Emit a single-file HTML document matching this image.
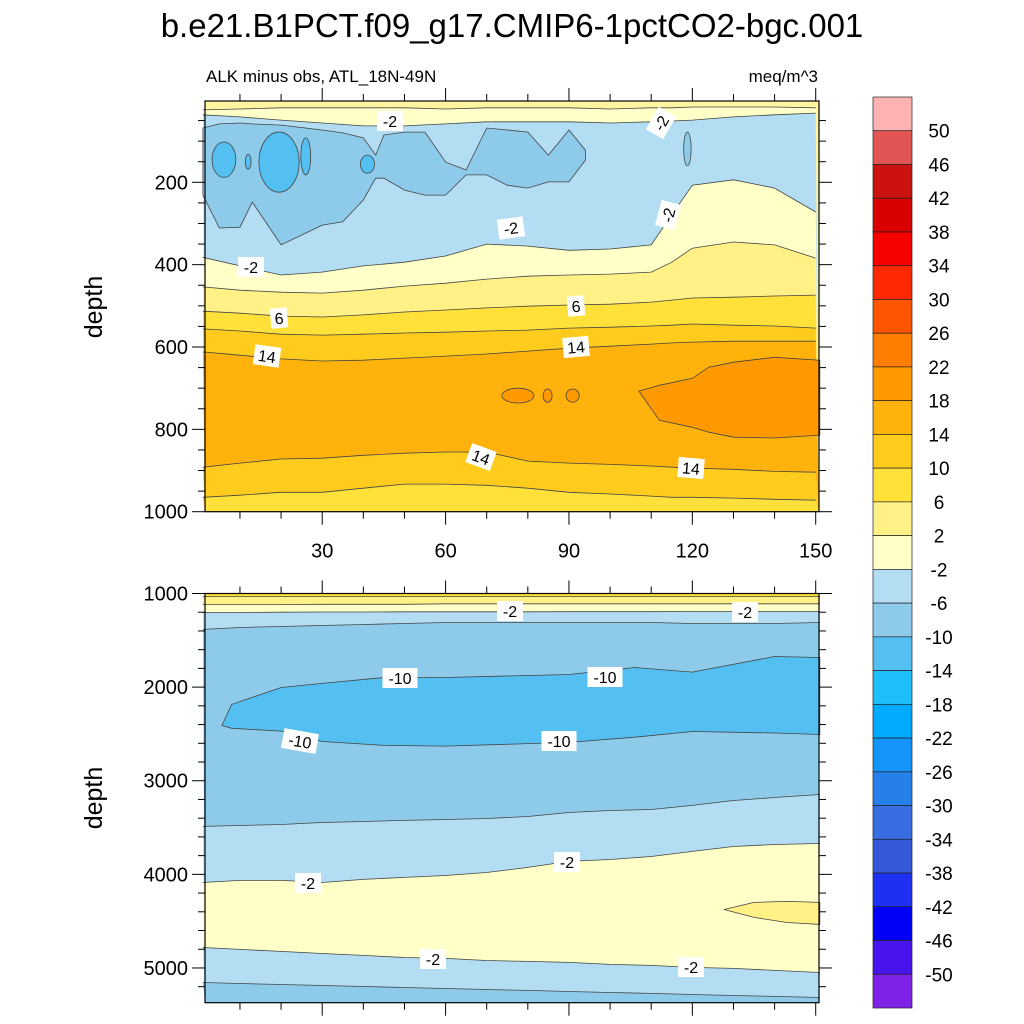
<!DOCTYPE html>
<html><head><meta charset="utf-8"><style>
html,body{margin:0;padding:0;background:#fff;}
svg{display:block;font-family:"Liberation Sans",sans-serif;}
</style></head><body>
<svg id="chart" width="1024" height="1024" viewBox="0 0 1024 1024" xmlns="http://www.w3.org/2000/svg">
<text x="512" y="37" font-size="33" text-anchor="middle">b.e21.B1PCT.f09_g17.CMIP6-1pctCO2-bgc.001</text>
<text x="206" y="82" font-size="17">ALK minus obs, ATL_18N-49N</text>
<text x="818" y="82" font-size="17" text-anchor="end">meq/m^3</text>
<text x="93" y="307" font-size="25" text-anchor="middle" transform="rotate(-90 93 307)" dy="9">depth</text>
<text x="93" y="798" font-size="25" text-anchor="middle" transform="rotate(-90 93 798)" dy="9">depth</text>
<g id="top"></g><g id="bot"></g><g id="cbar"></g>
</svg>
<script>
// ---------- data ----------
const yearsT = [1,10,20,30,40,50,60,70,80,90,100,110,115,120,130,140,150];
const topA   = [24,22,19,19,19,19,22,19,19,19,22,19,19,17,17,17,19];
const topM2a = [36,41,49,56,63,63,58,53,53,53,56,53,51,49,41,36,32];
const topM2b = [382,403,425,418,403,394,379,350,355,365,362,352,279,207,194,214,272];
const top2   = [454,462,467,469,462,452,445,435,428,425,423,418,394,360,345,352,384];
const top6   = [513,518,525,527,522,515,510,505,501,498,496,491,486,481,479,476,474];
const top10  = [556,561,569,571,569,566,564,561,559,554,552,549,547,544,547,549,554];
const top14a = [612,620,629,634,632,627,622,617,610,603,598,593,590,588,586,586,586];
const top14b = [892,882,872,870,863,858,855,855,877,882,885,889,892,894,897,902,904];
const top10b = [965,960,953,953,943,933,933,936,943,953,957,962,965,965,967,970,972];
const blueBlobYears = [1,5,10,13,20,30,35,40,43,45,50,55,60,65,70,75,80,85,90,94];
const blueBlobTop   = [68,58,56,58,61,73,80,92,134,85,78,78,151,170,68,73,78,134,73,122];
const blueBlobBot   = [231,311,309,248,352,304,296,243,190,190,219,231,231,182,182,207,214,199,199,146];
// small ellipse blobs: [centerYear, centerDepth, halfWidthYears, halfDepth]
const darkBlueBlobs = [[6.1,145,2.9,43],[19.5,151,4.9,73],[26,137,1.2,45],[41,156,1.7,22],[12,150,0.7,18]];
const medBlueBlobs = [[118.8,119,0.9,41]];
const orangeBlobYears = [107,112,120,124,130,140,151];
const orangeBlobTop = [707,693,676,649,637,625,632];
const orangeBlobBot = [707,778,795,807,819,821,814];
const orangeSmall = [[77.6,718,3.9,18],[84.8,718,1.1,16],[90.9,718,1.6,16]];

const yearsB = [1,10,20,30,40,50,60,70,80,90,100,110,120,130,140,151];
const botA   = [1032,1032,1032,1032,1032,1032,1032,1032,1032,1032,1032,1032,1032,1032,1032,1032];
const botB   = [1117,1117,1117,1115,1115,1115,1110,1110,1110,1110,1110,1110,1110,1110,1110,1110];
const botM2a = [1203,1203,1200,1198,1198,1196,1196,1196,1196,1194,1194,1194,1192,1192,1192,1192];
const botM6a = [1384,1363,1352,1342,1331,1320,1310,1310,1310,1310,1310,1310,1320,1320,1320,1310];
const botM6b = [3488,3478,3467,3446,3435,3424,3414,3403,3382,3339,3318,3307,3264,3211,3179,3147];
const botM2b = [4087,4065,4065,4087,4054,4033,4012,3980,3926,3862,3841,3809,3755,3702,3681,3670];
const botM2c = [4781,4802,4823,4845,4866,4888,4898,4920,4930,4941,4962,4973,4994,5005,5026,5048];
const botM6c = [5155,5166,5177,5187,5198,5209,5219,5230,5240,5251,5262,5272,5283,5294,5304,5315];
const m10Years = [5.6,8,20,30,45,60,90,106,120,140,151];
const m10Top = [2410,2185,2004,1960,1897,1897,1865,1790,1840,1673,1684];
const m10Bot = [2410,2440,2470,2581,2623,2630,2590,2535,2474,2490,2506];
const p2Years = [127.7,135,143,151];
const p2Top = [4375,4300,4289,4300];
const p2Bot = [4375,4460,4514,4535];

const cbLabels = ["50","46","42","38","34","30","26","22","18","14","10","6","2","-2","-6","-10","-14","-18","-22","-26","-30","-34","-38","-42","-46","-50"];
const cbColors = ["#ffb2b2","#e35555","#cc1111","#d80000","#f70000","#ff2800","#ff5500","#ff7d00","#ff9900","#ffb20b","#ffcc1e","#ffe13a","#fff185","#ffffc8","#b3ddf2","#8ecbeb","#54c0f2","#1ebefc","#00aaff","#1495fb","#2580ec","#386de3","#3558db","#1e30f2","#0000f8","#4814ee","#7d22e6"];
// ---------- helpers ----------
const NS="http://www.w3.org/2000/svg";
const X0=205,X1=819,YR0=1.5,YR1=150.8;
const xs=yr=>X0+(yr-YR0)*(X1-X0)/(YR1-YR0);
const T={y0:101,y1:511.7,d0:2.5,d1:1000};
const B={y0:593.5,y1:1002.7,d0:1000,d1:5371};
const ys=(P,d)=>P.y0+(d-P.d0)*(P.y1-P.y0)/(P.d1-P.d0);
const CREAM="#ffffc8",LB="#b3ddf2",MB="#8ecbeb",DB="#54c0f2",Y2="#fff185",Y6="#ffe13a",Y10="#ffcc1e",O14="#ffb20b",O18="#ff9900";
function mk(tag,parent,attrs){const e=document.createElementNS(NS,tag);for(const k in attrs)e.setAttribute(k,attrs[k]);parent.appendChild(e);return e;}
function linePts(P,yrs,ds){return yrs.map((y,i)=>xs(y).toFixed(1)+","+ys(P,ds[i]).toFixed(1));}
function fillBelow(g,P,yrs,ds,col,name){
  const pts=linePts(P,yrs,ds);
  const p=mk("polygon",g,{points:pts.join(" ")+" "+X1+","+P.y1+" "+X0+","+P.y1,fill:col});
  
  
  const l=mk("polyline",g,{points:pts.join(" "),fill:"none",stroke:"#444",'stroke-width':0.8});
  
  
}
function blob(g,P,yrs,top,bot,col,name){
  const a=linePts(P,yrs,top),b=linePts(P,yrs,bot).reverse();
  const p=mk("polygon",g,{points:a.concat(b).join(" "),fill:col,stroke:"#444",'stroke-width':0.8});
  
  
}
function ell(g,P,b,col,name){
  const cx=xs(b[0]),cy=ys(P,b[1]),rx=xs(b[0]+b[2])-cx,ry=ys(P,b[1]+b[3])-cy;
  const e=mk("ellipse",g,{cx:cx,cy:cy,rx:rx,ry:ry,fill:col,stroke:"#444",'stroke-width':0.8});
  
  
}
function label(g,x,y,txt,rot){
  const w=txt.length*9+8;
  const gg=mk("g",g,{transform:"translate("+x+","+y+") rotate("+(rot||0)+")"});
  
  
  mk("rect",gg,{x:-w/2,y:-10,width:w,height:20,fill:"#fff"});
  const t=mk("text",gg,{x:0,y:6,'font-size':16,'text-anchor':"middle"});t.textContent=txt;
}
function axes(g,P,majors,minorStep,showX,name){
  const ax=mk("g",g,{});
  
  
  for(let d=Math.ceil(P.d0/minorStep)*minorStep; d<=P.d1; d+=minorStep){
    const y=ys(P,d),maj=majors.includes(d),L=maj?13:7;
    mk("line",ax,{x1:X0-L,y1:y,x2:X0,y2:y,stroke:"#000",'stroke-width':1});
    mk("line",ax,{x1:X1,y1:y,x2:X1+L,y2:y,stroke:"#000",'stroke-width':1});
    if(maj){const t=mk("text",ax,{x:X0-17,y:y+7,'font-size':20,'text-anchor':"end"});t.textContent=d;}
  }
  for(let yr=10; yr<=150; yr+=10){
    const x=xs(yr),maj=yr%30===0,L=maj?13:7;
    mk("line",ax,{x1:x,y1:P.y1,x2:x,y2:P.y1+L,stroke:"#000",'stroke-width':1});
    mk("line",ax,{x1:x,y1:P.y0-L,x2:x,y2:P.y0,stroke:"#000",'stroke-width':1});
    if(maj&&showX){const t=mk("text",ax,{x:x,y:P.y1+46,'font-size':20,'text-anchor':"middle"});t.textContent=yr;}
  }
  mk("rect",ax,{x:X0,y:P.y0,width:X1-X0,height:P.y1-P.y0,fill:"none",stroke:"#000",'stroke-width':1.2});
}
// ---------- top panel ----------
const gt=document.getElementById("top");


mk("rect",gt,{x:X0,y:T.y0,width:X1-X0,height:T.y1-T.y0,fill:"#fff5a0"});
fillBelow(gt,T,yearsT,topA,CREAM,"level-2a");
fillBelow(gt,T,yearsT,topM2a,LB,"level-m2a");
blob(gt,T,blueBlobYears,blueBlobTop,blueBlobBot,MB,"blob-minus6");
darkBlueBlobs.forEach(b=>ell(gt,T,b,DB,"blob-minus10"));
medBlueBlobs.forEach(b=>ell(gt,T,b,MB,"blob-minus6-small"));
fillBelow(gt,T,yearsT,topM2b,CREAM,"level-m2b");
fillBelow(gt,T,yearsT,top2,Y2,"level-2");
fillBelow(gt,T,yearsT,top6,Y6,"level-6");
fillBelow(gt,T,yearsT,top10,Y10,"level-10");
fillBelow(gt,T,yearsT,top14a,O14,"level-14a");
blob(gt,T,orangeBlobYears,orangeBlobTop,orangeBlobBot,O18,"blob-18");
orangeSmall.forEach(b=>ell(gt,T,b,O18,"blob-18-small"));
fillBelow(gt,T,yearsT,top14b,Y10,"level-14b");
fillBelow(gt,T,yearsT,top10b,Y6,"level-10b");
[[390,121,"-2",0],[661,123,"-2",-60],[668,215,"-2",-75],[511,228,"-2",-8],[251,267,"-2",0],
 [279,318,"6",-5],[576,306,"6",-5],[267,356,"14",8],[576,347,"14",-5],[481,457,"14",20],[691,468,"14",5]]
 .forEach(l=>label(gt,l[0],l[1],l[2],l[3]));
axes(gt,T,[200,400,600,800,1000],50,true,"upper");
// ---------- bottom panel ----------
const gb=document.getElementById("bot");


mk("rect",gb,{x:X0,y:B.y0,width:X1-X0,height:B.y1-B.y0,fill:Y6});
fillBelow(gb,B,yearsB,botA,Y2,"level-6-deep");
fillBelow(gb,B,yearsB,botB,CREAM,"level-2-deep");
fillBelow(gb,B,yearsB,botM2a,LB,"level-m2-deep");
fillBelow(gb,B,yearsB,botM6a,MB,"level-m6-deep");
blob(gb,B,m10Years,m10Top,m10Bot,DB,"blob-minus10-deep");
fillBelow(gb,B,yearsB,botM6b,LB,"level-m6b-deep");
fillBelow(gb,B,yearsB,botM2b,CREAM,"level-m2b-deep");
blob(gb,B,p2Years,p2Top,p2Bot,Y2,"blob-2-deep");
fillBelow(gb,B,yearsB,botM2c,LB,"level-m2c-deep");
fillBelow(gb,B,yearsB,botM6c,MB,"level-m6c-deep");
[[510,611,"-2",0],[745,612,"-2",0],[400,678,"-10",0],[605,677,"-10",0],[300,741,"-10",10],[559,741,"-10",0],
 [567,862,"-2",0],[308,883,"-2",0],[433,959,"-2",0],[691,967,"-2",0]].forEach(l=>label(gb,l[0],l[1],l[2],l[3]));
axes(gb,B,[1000,2000,3000,4000,5000],200,false,"lower");
// ---------- colorbar ----------
const gc=document.getElementById("cbar");


const CB0=97,CB1=1008,bh=(CB1-CB0)/cbColors.length;
cbColors.forEach((c,i)=>{
  const r=mk("rect",gc,{x:873,y:CB0+i*bh,width:39,height:bh,fill:c,stroke:"#222",'stroke-width':0.7});
  
  
});
cbLabels.forEach((s,i)=>{
  const t=mk("text",gc,{x:939,y:CB0+(i+1)*bh+7,'font-size':19,'text-anchor':"middle"});
  
  
  t.textContent=s;
});
</script>
</body></html>
